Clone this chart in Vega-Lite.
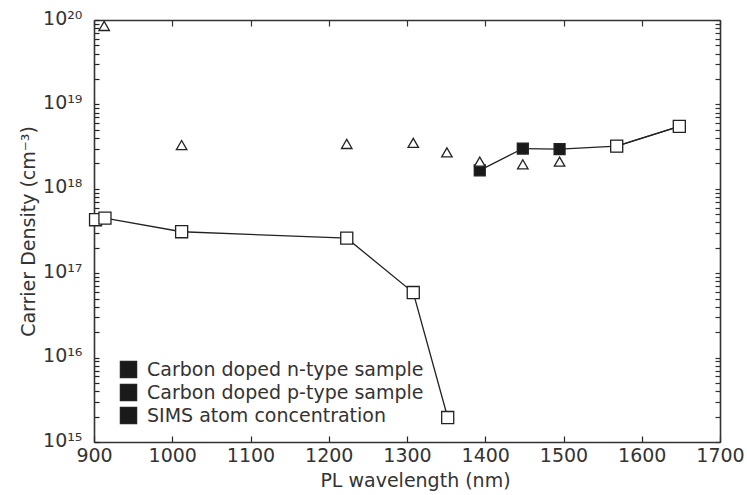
{
  "$schema": "https://vega.github.io/schema/vega-lite/v6.json",
  "width": 626,
  "height": 422,
  "autosize": {"type": "none"},
  "padding": {"left": 94, "top": 20, "right": 27, "bottom": 53},
  "background": "white",
  "config": {
    "view": {"stroke": null},
    "font": "DejaVu Sans",
    "axis": {"labelFont": "DejaVu Sans", "titleFont": "DejaVu Sans", "labelFontSize": 19, "titleFontSize": 19, "titleFontWeight": "normal", "labelColor": "#333", "titleColor": "#333", "tickColor": "#333", "domainColor": "#333", "domainWidth": 1.6, "tickWidth": 1.2, "grid": false}
  },
  "data": {"values": [
    {"series": "Carbon doped p-type sample", "run": "p", "wavelength": 1393, "density": 1.65e18},
    {"series": "Carbon doped p-type sample", "run": "p", "wavelength": 1448, "density": 3.0e18},
    {"series": "Carbon doped p-type sample", "run": "p", "wavelength": 1495, "density": 2.95e18},
    {"series": "Carbon doped p-type sample", "run": "p", "wavelength": 1568, "density": 3.2e18},
    {"series": "Carbon doped p-type sample", "run": "p", "wavelength": 1648, "density": 5.5e18},
    {"series": "Carbon doped n-type sample", "run": "n1", "wavelength": 902, "density": 4.3e17},
    {"series": "Carbon doped n-type sample", "run": "n1", "wavelength": 914, "density": 4.5e17},
    {"series": "Carbon doped n-type sample", "run": "n1", "wavelength": 1012, "density": 3.1e17},
    {"series": "Carbon doped n-type sample", "run": "n1", "wavelength": 1223, "density": 2.6e17},
    {"series": "Carbon doped n-type sample", "run": "n1", "wavelength": 1308, "density": 5.9e16},
    {"series": "Carbon doped n-type sample", "run": "n1", "wavelength": 1352, "density": 1.95e15},
    {"series": "Carbon doped n-type sample", "run": "n2", "wavelength": 1568, "density": 3.2e18},
    {"series": "Carbon doped n-type sample", "run": "n2", "wavelength": 1648, "density": 5.5e18},
    {"series": "SIMS atom concentration", "run": "s", "wavelength": 913, "density": 8.5e19},
    {"series": "SIMS atom concentration", "run": "s", "wavelength": 1012, "density": 3.3e18},
    {"series": "SIMS atom concentration", "run": "s", "wavelength": 1223, "density": 3.4e18},
    {"series": "SIMS atom concentration", "run": "s", "wavelength": 1308, "density": 3.5e18},
    {"series": "SIMS atom concentration", "run": "s", "wavelength": 1351, "density": 2.7e18},
    {"series": "SIMS atom concentration", "run": "s", "wavelength": 1393, "density": 2.1e18},
    {"series": "SIMS atom concentration", "run": "s", "wavelength": 1448, "density": 1.95e18},
    {"series": "SIMS atom concentration", "run": "s", "wavelength": 1495, "density": 2.1e18}
  ]},
  "layer": [
    {
      "transform": [{"filter": "datum.run == 's'"}],
      "mark": {"type": "point", "opacity": 0},
      "encoding": {
        "x": {"field": "wavelength", "type": "quantitative",
          "axis": {"orient": "bottom", "values": [900, 1000, 1100, 1200, 1300, 1400, 1500, 1600, 1700], "tickSize": -6, "labels": false, "title": null, "domain": false, "ticks": true, "tickColor": "#222"}},
        "y": {"field": "density", "type": "quantitative",
          "axis": {"orient": "left",
            "values": [1e15, 2e15, 3e15, 4e15, 5e15, 6e15, 7e15, 8e15, 9e15, 1e16, 2e16, 3e16, 4e16, 5e16, 6e16, 7e16, 8e16, 9e16, 1e17, 2e17, 3e17, 4e17, 5e17, 6e17, 7e17, 8e17, 9e17, 1e18, 2e18, 3e18, 4e18, 5e18, 6e18, 7e18, 8e18, 9e18, 1e19, 2e19, 3e19, 4e19, 5e19, 6e19, 7e19, 8e19, 9e19, 1e20],
            "tickSize": -5, "labels": false, "title": null, "domain": false, "ticks": true, "tickColor": "#222"}}
      }
    },
    {
      "transform": [{"filter": "datum.run != 's'"}],
      "mark": {"type": "line", "color": "#222", "strokeWidth": 1.3},
      "encoding": {
        "x": {"field": "wavelength", "type": "quantitative", "axis": null},
        "y": {"field": "density", "type": "quantitative", "axis": null},
        "detail": {"field": "run"}
      }
    },
    {
      "transform": [{"filter": "datum.run == 'p'"}],
      "mark": {"type": "point", "shape": "square", "fill": "#1a1a1a", "stroke": "#222", "strokeWidth": 1.3, "size": 120},
      "encoding": {
        "x": {"field": "wavelength", "type": "quantitative",
          "scale": {"domain": [900, 1700], "nice": false, "zero": false},
          "axis": {"orient": "bottom", "values": [900, 1000, 1100, 1200, 1300, 1400, 1500, 1600, 1700], "format": "d", "ticks": false, "labelPadding": 4, "labelFlush": false, "title": "PL wavelength (nm)", "titlePadding": 6, "titleX": 321}},
        "y": {"field": "density", "type": "quantitative",
          "scale": {"type": "log", "domain": [1e15, 1e20], "nice": false},
          "axis": {"orient": "left",
            "values": [1e15, 1e16, 1e17, 1e18, 1e19, 1e20],
            "labelExpr": "datum.value == 1e20 ? '10²⁰' : datum.value == 1e19 ? '10¹⁹' : datum.value == 1e18 ? '10¹⁸' : datum.value == 1e17 ? '10¹⁷' : datum.value == 1e16 ? '10¹⁶' : '10¹⁵'",
            "ticks": false, "labelFlush": false,
            "labelPadding": 12, "labelOffset": -2, "labelOverlap": false,
            "title": "Carrier Density (cm⁻³)", "titlePadding": 4}},
        "opacity": {"field": "series", "type": "nominal",
          "scale": {"domain": ["Carbon doped n-type sample", "Carbon doped p-type sample", "SIMS atom concentration"], "range": [1, 1]},
          "legend": {"title": null, "orient": "none", "legendX": 25, "legendY": 340, "padding": 0, "labelFont": "DejaVu Sans", "labelFontSize": 19, "labelColor": "#333", "labelLimit": 400, "symbolSize": 256, "rowPadding": 0, "labelOffset": 9, "symbolOpacity": 1,
            "encode": {"symbols": {
              "shape": {"condition": {"test": "datum.value == 'SIMS atom concentration'", "value": "M0,-0.56L0.56,0.44L-0.56,0.44Z"}, "value": "M-1.875,0H-0.625M0.625,0H1.875M-0.625,-0.625H0.625V0.625H-0.625Z"},
              "fill": {"condition": {"test": "datum.value == 'Carbon doped p-type sample'", "value": "#1a1a1a"}, "value": "white"},
              "stroke": {"value": "#222"},
              "strokeWidth": {"value": 1.4}}}}}
      }
    },
    {
      "transform": [{"filter": "datum.run == 'n1' || datum.run == 'n2'"}],
      "mark": {"type": "point", "shape": "square", "fill": "white", "stroke": "#222", "strokeWidth": 1.3, "size": 145},
      "encoding": {
        "x": {"field": "wavelength", "type": "quantitative", "axis": null},
        "y": {"field": "density", "type": "quantitative", "axis": null},
        "opacity": {"field": "series", "type": "nominal",
          "scale": {"domain": ["Carbon doped n-type sample", "Carbon doped p-type sample", "SIMS atom concentration"], "range": [1, 1]},
          "legend": {"title": null, "orient": "none", "legendX": 25, "legendY": 340, "padding": 0, "labelFont": "DejaVu Sans", "labelFontSize": 19, "labelColor": "#333", "labelLimit": 400, "symbolSize": 256, "rowPadding": 0, "labelOffset": 9, "symbolOpacity": 1,
            "encode": {"symbols": {
              "shape": {"condition": {"test": "datum.value == 'SIMS atom concentration'", "value": "M0,-0.56L0.56,0.44L-0.56,0.44Z"}, "value": "M-1.875,0H-0.625M0.625,0H1.875M-0.625,-0.625H0.625V0.625H-0.625Z"},
              "fill": {"condition": {"test": "datum.value == 'Carbon doped p-type sample'", "value": "#1a1a1a"}, "value": "white"},
              "stroke": {"value": "#222"},
              "strokeWidth": {"value": 1.4}}}}}
      }
    },
    {
      "transform": [{"filter": "datum.run == 's'"}],
      "mark": {"type": "point", "shape": "triangle-up", "fill": "white", "stroke": "#222", "strokeWidth": 1.3, "size": 110},
      "encoding": {
        "x": {"field": "wavelength", "type": "quantitative", "axis": null},
        "y": {"field": "density", "type": "quantitative", "axis": null},
        "opacity": {"field": "series", "type": "nominal",
          "scale": {"domain": ["Carbon doped n-type sample", "Carbon doped p-type sample", "SIMS atom concentration"], "range": [1, 1]},
          "legend": {"title": null, "orient": "none", "legendX": 25, "legendY": 340, "padding": 0, "labelFont": "DejaVu Sans", "labelFontSize": 19, "labelColor": "#333", "labelLimit": 400, "symbolSize": 256, "rowPadding": 0, "labelOffset": 9, "symbolOpacity": 1,
            "encode": {"symbols": {
              "shape": {"condition": {"test": "datum.value == 'SIMS atom concentration'", "value": "M0,-0.56L0.56,0.44L-0.56,0.44Z"}, "value": "M-1.875,0H-0.625M0.625,0H1.875M-0.625,-0.625H0.625V0.625H-0.625Z"},
              "fill": {"condition": {"test": "datum.value == 'Carbon doped p-type sample'", "value": "#1a1a1a"}, "value": "white"},
              "stroke": {"value": "#222"},
              "strokeWidth": {"value": 1.4}}}}}
      }
    },
    {
      "transform": [{"filter": "datum.run == 's'"}],
      "mark": {"type": "point", "opacity": 0},
      "encoding": {
        "x": {"field": "wavelength", "type": "quantitative",
          "axis": {"orient": "top", "values": [900, 1000, 1100, 1200, 1300, 1400, 1500, 1600, 1700], "tickSize": -6, "labels": false, "title": null}},
        "y": {"field": "density", "type": "quantitative",
          "axis": {"orient": "right",
            "values": [1e15, 2e15, 3e15, 4e15, 5e15, 6e15, 7e15, 8e15, 9e15, 1e16, 2e16, 3e16, 4e16, 5e16, 6e16, 7e16, 8e16, 9e16, 1e17, 2e17, 3e17, 4e17, 5e17, 6e17, 7e17, 8e17, 9e17, 1e18, 2e18, 3e18, 4e18, 5e18, 6e18, 7e18, 8e18, 9e18, 1e19, 2e19, 3e19, 4e19, 5e19, 6e19, 7e19, 8e19, 9e19, 1e20],
            "tickSize": -5,
            "labels": false, "title": null}}
      }
    }
  ],
  "resolve": {"axis": {"x": "independent", "y": "independent"}}
}
